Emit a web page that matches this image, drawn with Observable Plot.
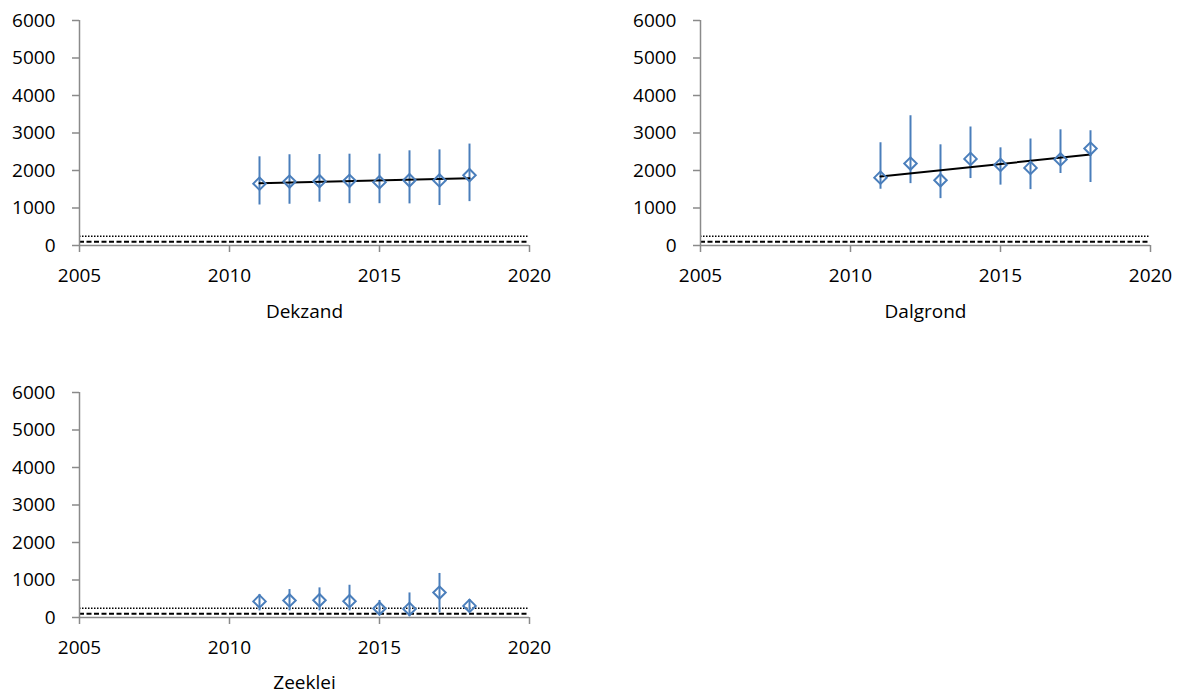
<!DOCTYPE html>
<html>
<head>
<meta charset="utf-8">
<script src="https://cdn.jsdelivr.net/npm/d3@7"></script>
<script src="https://cdn.jsdelivr.net/npm/@observablehq/plot@0.6"></script>
<style>
  body { margin: 0; background: #fff; }
  #wrap { position: relative; width: 1181px; height: 695px; background: #fff; }
  .panel { position: absolute; }
</style>
</head>
<body>
<div id="wrap"></div>
<script>
// Sampling years
const years = [2011, 2012, 2013, 2014, 2015, 2016, 2017, 2018];

// Dekzand: yearly mean with lower / upper bound, and trend end points
const dekzandMean = [1650, 1705, 1715, 1725, 1690, 1740, 1735, 1875];
const dekzandLow  = [1080, 1100, 1155, 1115, 1115, 1110, 1065, 1170];
const dekzandHigh = [2365, 2420, 2425, 2435, 2435, 2525, 2550, 2705];
const dekzandTrend = [1662, 1796];

// Dalgrond
const dalgrondMean = [1810, 2185, 1740, 2310, 2150, 2070, 2295, 2585];
const dalgrondLow  = [1500, 1650, 1250, 1785, 1610, 1490, 1920, 1680];
const dalgrondHigh = [2740, 3460, 2685, 3160, 2605, 2840, 3085, 3060];
const dalgrondTrend = [1840, 2425];

// Zeeklei (no trend line)
const zeekleiMean = [430, 455, 460, 435, 240, 230, 665, 310];
const zeekleiLow  = [175, 175, 175, 175, 105, 20, 120, 165];
const zeekleiHigh = [615, 745, 790, 860, 455, 655, 1175, 480];

// Axes and reference levels
const xTicks = [2005, 2010, 2015, 2020];
const yTicks = [0, 1000, 2000, 3000, 4000, 5000, 6000];
const dottedLevel = [250];
const dashedLevel = [100];

const blue = "#4a7ebb";
const gray = "#8a8a8a";
const font = 19;

function panel({title, mean, low, high, trend, left, top, height, marginBottom, titleOffset}) {
  const rows = years.map((year, i) => ({year, mean: mean[i], low: low[i], high: high[i]}));
  const trendRows = trend ? [{year: years[0], value: trend[0]}, {year: years[years.length - 1], value: trend[1]}] : [];
  const chart = Plot.plot({
    width: 560,
    height,
    marginLeft: 79,
    marginRight: 31,
    marginTop: 20,
    marginBottom,
    style: {fontFamily: "'Open Sans', sans-serif", fontSize: font + "px", color: "black", background: "white", overflow: "visible"},
    x: {domain: [2005, 2020]},
    y: {domain: [0, 6000]},
    marks: [
      // reference levels near zero
      Plot.ruleY(dottedLevel, {stroke: "black", strokeWidth: 1.5, strokeDasharray: "1.5,1.5"}),
      Plot.ruleY(dashedLevel, {stroke: "black", strokeWidth: 2, strokeDasharray: "5,2.5"}),
      // axis lines
      Plot.ruleX([2005], {stroke: gray, strokeWidth: 1.5}),
      Plot.ruleY([0], {stroke: gray, strokeWidth: 1.5}),
      Plot.axisY({ticks: yTicks, tickFormat: "d", tickSize: 7, tickPadding: 17, stroke: gray, strokeWidth: 1.5, fill: "black", fontSize: font, label: null}),
      Plot.axisX({ticks: xTicks, tickFormat: "d", tickSize: 7, tickPadding: 16, stroke: gray, strokeWidth: 1.5, fill: "black", fontSize: font, label: null}),
      // spread per year, trend and yearly mean
      Plot.ruleX(rows, {x: "year", y1: "low", y2: "high", stroke: blue, strokeWidth: 2}),
      Plot.line(trendRows, {x: "year", y: "value", stroke: "black", strokeWidth: 2}),
      Plot.dot(rows, {x: "year", y: "mean", symbol: "diamond2", r: 5.6, stroke: blue, strokeWidth: 2, fill: "none"}),
      // panel title under the x axis
      Plot.text([title], {text: d => d, frameAnchor: "bottom", dy: titleOffset, fill: "black", fontSize: font})
    ]
  });
  chart.classList.add("panel");
  chart.style.left = left + "px";
  chart.style.top = top + "px";
  document.getElementById("wrap").appendChild(chart);
}

panel({title: "Dekzand", mean: dekzandMean, low: dekzandLow, high: dekzandHigh, trend: dekzandTrend,
       left: 0, top: 0, height: 335, marginBottom: 90, titleOffset: 72});
panel({title: "Dalgrond", mean: dalgrondMean, low: dalgrondLow, high: dalgrondHigh, trend: dalgrondTrend,
       left: 621, top: 0, height: 335, marginBottom: 90, titleOffset: 72});
panel({title: "Zeeklei", mean: zeekleiMean, low: zeekleiLow, high: zeekleiHigh, trend: null,
       left: 0, top: 372, height: 323, marginBottom: 78, titleOffset: 71});
</script>
</body>
</html>
